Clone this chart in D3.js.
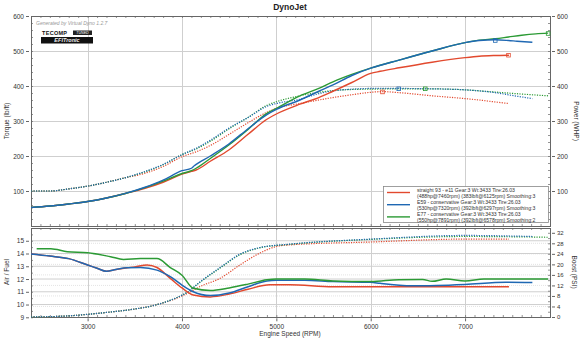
<!DOCTYPE html>
<html><head><meta charset="utf-8">
<script src="https://cdn.jsdelivr.net/npm/d3@7/dist/d3.min.js"></script>
<style>
body{margin:0;background:#fff;}
svg{display:block;font-family:"Liberation Sans",Arial,sans-serif;}
</style></head>
<body><svg id="c" width="580" height="342"></svg>
<script>
// ---------------- DATA ----------------
const seriesNames = ["straight 93 - e11", "E59 - conservative", "E77 - conservative"];
const legendLine1 = [
  "straight 93 - e11 Gear:3 Wt:3433 Tire:26.03",
  "E59 - conservative Gear:3 Wt:3433 Tire:26.03",
  "E77 - conservative Gear:3 Wt:3433 Tire:26.03"];
const legendLine2 = [
  "(488hp@7460rpm) (383lbft@6125rpm) Smoothing:3",
  "(530hp@7320rpm) (392lbft@6297rpm) Smoothing:3",
  "(550hp@7891rpm) (392lbft@6578rpm) Smoothing:2"];
const colors = ["#e2492e", "#1f68b3", "#2b9a34"];

const xTicks = [3000, 4000, 5000, 6000, 7000];
const topTicks = [100, 200, 300, 400, 500, 600];
const afrTicks = [9, 10, 11, 12, 13, 14, 15];
const boostTicks = [0, 4, 8, 12, 16, 20, 24, 28, 32];

// Power (WHP): [rpm, hp]
const powerRed = [[2400,53],[2600,57],[2800,63],[3000,70],[3200,80],[3400,93],[3600,107],[3800,125],[4000,148],[4100,156],[4150,160],[4300,185],[4500,218],[4700,262],[4900,305],[5000,320],[5250,348],[5450,367],[5600,385],[5800,410],[6000,436],[6100,442],[6300,452],[6650,468],[7000,481],[7150,485],[7300,487],[7465,488]];
const powerBlue = [[2400,53],[2600,57],[2800,63],[3000,70],[3200,80],[3400,93],[3600,110],[3800,131],[4000,158],[4100,165],[4130,172],[4300,200],[4500,235],[4700,278],[4900,318],[5000,333],[5250,360],[5450,385],[5600,403],[5800,430],[6000,451],[6300,474],[6650,500],[7000,524],[7150,530],[7320,532],[7460,530],[7550,528],[7713,525]];
const powerGreen = [[2400,53],[2600,57],[2800,63],[3000,70],[3200,80],[3400,93],[3600,109],[3800,128],[4000,150],[4100,158],[4150,165],[4300,193],[4500,232],[4700,276],[4900,322],[5000,336],[5250,372],[5450,393],[5600,412],[5800,433],[6000,451],[6300,474],[6650,500],[7000,524],[7150,531],[7320,535],[7460,540],[7600,545],[7750,549],[7880,551]];

// Torque (lb/ft): [rpm, lbft]
const torqueRed = [[2400,100],[2600,100],[2800,106],[3000,114],[3200,125],[3400,138],[3600,150],[3800,170],[4000,198],[4150,212],[4300,230],[4500,262],[4700,295],[4900,325],[5000,336],[5250,350],[5450,360],[5600,367],[5800,375],[6000,382],[6125,384],[6300,381],[6650,372],[7000,364],[7150,360],[7300,355],[7465,350]];
const torqueBlue = [[2400,100],[2600,100],[2800,106],[3000,114],[3200,125],[3400,138],[3600,155],[3800,176],[4000,204],[4150,222],[4300,245],[4500,280],[4700,310],[4900,342],[5000,350],[5250,362],[5450,378],[5600,386],[5800,391],[6000,393],[6300,393],[6650,392],[7000,389],[7150,386],[7320,381],[7500,373],[7713,364]];
const torqueGreen = [[2400,100],[2600,100],[2800,106],[3000,114],[3200,125],[3400,138],[3600,154],[3800,175],[4000,204],[4150,220],[4300,242],[4500,278],[4700,310],[4900,345],[5000,355],[5250,372],[5450,382],[5600,387],[5800,390],[6000,391],[6300,392],[6578,392],[7000,389],[7300,383],[7600,377],[7880,372]];

// Air / Fuel: [rpm, afr]
const afrRed = [[2400,13.96],[2600,13.8],[2800,13.6],[3000,13.1],[3100,12.85],[3200,12.6],[3300,12.75],[3420,12.88],[3500,12.95],[3630,13.1],[3735,12.9],[3876,12.05],[4000,11.3],[4120,10.75],[4300,10.6],[4500,10.82],[4700,11.2],[4930,11.55],[5140,11.55],[5600,11.4],[6000,11.4],[7000,11.4],[7465,11.4]];
const afrBlue = [[2400,13.96],[2600,13.8],[2800,13.6],[3000,13.1],[3100,12.85],[3200,12.6],[3300,12.75],[3420,12.88],[3560,12.9],[3735,12.7],[3876,12.18],[4000,11.53],[4120,11.0],[4300,10.7],[4500,10.9],[4700,11.4],[4900,11.85],[5000,11.9],[5300,11.9],[5600,11.8],[6000,11.75],[6100,11.66],[6440,11.47],[6700,11.5],[7000,11.58],[7430,11.74],[7713,11.72]];
const afrGreen = [[2460,14.37],[2610,14.37],[2785,14.14],[3000,14.06],[3243,13.75],[3380,13.54],[3560,13.6],[3735,13.6],[3876,12.9],[4000,12.3],[4120,11.27],[4300,11.1],[4500,11.3],[4700,11.6],[4900,11.94],[5000,12.0],[5300,12.0],[5600,11.85],[6000,11.8],[6300,11.95],[6550,11.97],[6650,11.82],[6800,12.0],[7000,11.85],[7200,12.0],[7880,12.0]];

// Boost (PSI): [rpm, psi]
const boostRed = [[2400,0],[2785,0.4],[3000,1.0],[3243,1.9],[3475,2.9],[3735,4.7],[3920,6.8],[4060,9.0],[4193,11.6],[4404,14.7],[4615,19.8],[4826,24.3],[5000,26.8],[5142,27.4],[6000,28.5],[7000,29.6],[7465,29.6]];
const boostBlue = [[2400,0],[2785,0.4],[3000,1.0],[3243,1.9],[3475,2.9],[3735,4.7],[3920,7.0],[4060,9.5],[4190,13.3],[4404,18.8],[4615,23.9],[4826,26.4],[5142,27.7],[6000,29.6],[7000,31.0],[7713,30.6]];
const boostGreen = [[2400,0],[2785,0.4],[3000,1.0],[3243,1.9],[3475,2.9],[3735,4.7],[3920,7.0],[4060,9.5],[4190,13.2],[4404,18.6],[4615,23.7],[4826,26.3],[5142,27.6],[6000,29.5],[7000,30.6],[7880,30.3]];

// Peak markers: [series index, rpm, value]
const peakMarkers = [[0,7460,488],[0,6125,383],[1,7320,530],[1,6297,392],[2,7880,550],[2,6578,392]];

// ---------------- CHART ----------------
const svg = d3.select("#c");
const x = d3.scaleLinear().domain([2400, 7900]).range([31, 550]);
const yTop = d3.scaleLinear().domain([0, 600]).range([226, 16]);
const yAfr = d3.scaleLinear().domain([9, 16]).range([317.3, 228]);
const yBoost = d3.scaleLinear().domain([0, 32]).range([317, 232.8]);
const fmt = d3.format("d");

const gridC = "#cfcfcf", axisC = "#666", txtC = "#333";

svg.append("text").attr("x", 290).attr("y", 10).attr("text-anchor","middle")
  .attr("font-size", 8.5).attr("font-weight","bold").attr("fill","#222").text("DynoJet");

// ---- top panel grid
const gTop = svg.append("g");
gTop.selectAll(".hg").data(topTicks.slice(0,-1)).join("line")
  .attr("x1", x.range()[0]).attr("x2", x.range()[1])
  .attr("y1", d=>yTop(d)+0.5).attr("y2", d=>yTop(d)+0.5)
  .attr("stroke", gridC).attr("stroke-width",1);
gTop.selectAll(".vg").data(xTicks).join("line")
  .attr("x1", d=>Math.round(x(d))+0.5).attr("x2", d=>Math.round(x(d))+0.5)
  .attr("y1", yTop(600)).attr("y2", yTop(0))
  .attr("stroke", gridC).attr("stroke-width",1);

// ---- bottom panel grid
const gBot = svg.append("g");
gBot.selectAll(".bg").data(boostTicks.slice(1,-1)).join("line")
  .attr("x1", x.range()[0]).attr("x2", x.range()[1])
  .attr("y1", d=>yBoost(d)).attr("y2", d=>yBoost(d))
  .attr("stroke", "#dcdcdc").attr("stroke-width",0.8).attr("stroke-dasharray","1,1");
gBot.selectAll(".ag").data(afrTicks.slice(1)).join("line")
  .attr("x1", x.range()[0]).attr("x2", x.range()[1])
  .attr("y1", d=>yAfr(d)).attr("y2", d=>yAfr(d))
  .attr("stroke", gridC).attr("stroke-width",1);
gBot.selectAll(".vg").data(xTicks).join("line")
  .attr("x1", d=>Math.round(x(d))+0.5).attr("x2", d=>Math.round(x(d))+0.5)
  .attr("y1", 228).attr("y2", yAfr(9))
  .attr("stroke", gridC).attr("stroke-width",1);

function frame(g, yScaleL, yScaleR, top, bottom, minorL, minorR) {
  const xMinor = d3.range(2400, 7901, 100);
  g.append("g").attr("transform",`translate(0,${bottom})`)
    .call(d3.axisTop(x).tickValues(xMinor).tickSize(2).tickFormat(""));
  g.append("g").attr("transform",`translate(0,${top})`)
    .call(d3.axisBottom(x).tickValues(xMinor).tickSize(2).tickFormat(""));
  g.append("g").attr("transform",`translate(${x.range()[0]},0)`)
    .call(d3.axisRight(yScaleL).tickValues(minorL).tickSize(2).tickFormat(""));
  g.append("g").attr("transform",`translate(${x.range()[1]},0)`)
    .call(d3.axisLeft(yScaleR).tickValues(minorR).tickSize(2).tickFormat(""));
  g.selectAll("path.domain").remove();
  g.selectAll("line").attr("stroke", axisC).attr("stroke-width",0.7);
  g.append("rect").attr("x", x.range()[0]+0.5).attr("y", top+0.5)
    .attr("width", x.range()[1]-x.range()[0]).attr("height", bottom-top)
    .attr("fill","none").attr("stroke", axisC).attr("stroke-width",1);
}
frame(svg.append("g"), yTop, yTop, 16, 226, d3.range(0,601,20), d3.range(0,601,20));
frame(svg.append("g"), yAfr, yBoost, 228, 317, d3.range(9,16.01,0.5), d3.range(0,33,2));

const lblSize = 6.5;
const styleAxis = (g, fs) => { g.select(".domain").remove(); g.selectAll("line").attr("stroke",axisC);
  g.selectAll("text").attr("font-size",fs).attr("fill",txtC).attr("font-family","Liberation Sans"); };
svg.append("g").attr("transform",`translate(${x.range()[0]-2},0)`)
  .call(d3.axisLeft(yTop).tickValues(topTicks).tickFormat(fmt).tickSize(3).tickPadding(2))
  .call(g=>styleAxis(g, lblSize));
svg.append("g").attr("transform",`translate(${x.range()[1]+2},0)`)
  .call(d3.axisRight(yTop).tickValues(topTicks).tickFormat(fmt).tickSize(3).tickPadding(2))
  .call(g=>styleAxis(g, lblSize));
svg.append("g").attr("transform",`translate(${x.range()[0]-2},0)`)
  .call(d3.axisLeft(yAfr).tickValues(afrTicks).tickFormat(fmt).tickSize(3).tickPadding(2))
  .call(g=>styleAxis(g, lblSize));
svg.append("g").attr("transform",`translate(${x.range()[1]+2},0)`)
  .call(d3.axisRight(yBoost).tickValues(boostTicks).tickFormat(fmt).tickSize(3).tickPadding(2))
  .call(g=>styleAxis(g, 6));
svg.append("g").attr("transform",`translate(0,${yAfr(9)+1})`)
  .call(d3.axisBottom(x).tickValues(xTicks).tickFormat(fmt).tickSize(3).tickPadding(3))
  .call(g=>styleAxis(g, lblSize));

const axT = (t, xx, yy, rot) => svg.append("text").attr("transform",`translate(${xx},${yy}) rotate(${rot})`)
  .attr("text-anchor","middle").attr("font-size",6.5).attr("fill",txtC).text(t);
axT("Torque (lb/ft)", 9, 121, -90);
axT("Power (WHP)", 574, 121, 90);
axT("Air / Fuel", 9, 272, -90);
axT("Boost (PSI)", 572, 272, 90);
svg.append("text").attr("x", 290).attr("y", 336).attr("text-anchor","middle")
  .attr("font-size",6.5).attr("fill",txtC).text("Engine Speed (RPM)");

svg.append("text").attr("x", 36).attr("y", 25).attr("font-size",5).attr("font-style","italic")
  .attr("fill","#999").text("Generated by Virtual Dyno 1.2.7");
svg.append("text").attr("x", 42).attr("y", 34.5).attr("font-size",5.5).attr("font-weight","bold")
  .attr("fill","#111").attr("letter-spacing",0.3).text("TECOMP");
svg.append("rect").attr("x",73).attr("y",30.5).attr("width",19).attr("height",4.5).attr("fill","#222");
svg.append("text").attr("x", 82.5).attr("y", 34.2).attr("text-anchor","middle").attr("font-size",3.6)
  .attr("font-style","italic").attr("fill","#fff").text("TUNED");
svg.append("rect").attr("x",41).attr("y",37).attr("width",52).attr("height",6.5).attr("fill","#111");
svg.append("text").attr("x", 67).attr("y", 42.3).attr("text-anchor","middle").attr("font-size",5.5)
  .attr("font-style","italic").attr("font-weight","bold").attr("fill","#eee").text("EFITronic");

const lineTop = d3.line().x(d=>x(d[0])).y(d=>yTop(d[1])).curve(d3.curveMonotoneX);
const lineAfr = d3.line().x(d=>x(d[0])).y(d=>yAfr(d[1])).curve(d3.curveMonotoneX);
const lineBoost = d3.line().x(d=>x(d[0])).y(d=>yBoost(d[1])).curve(d3.curveMonotoneX);

const torques = [torqueRed, torqueBlue, torqueGreen];
const powers = [powerRed, powerBlue, powerGreen];
const afrs = [afrRed, afrBlue, afrGreen];
const boosts = [boostRed, boostBlue, boostGreen];

const order = [0, 2, 1];
order.forEach(i=>{
  svg.append("path").attr("d", lineTop(torques[i])).attr("fill","none")
    .attr("stroke", colors[i]).attr("stroke-width",1.2).attr("stroke-dasharray","1.2,1.3");
});
order.forEach(i=>{
  svg.append("path").attr("d", lineTop(powers[i])).attr("fill","none")
    .attr("stroke", colors[i]).attr("stroke-width",1.4);
});
order.forEach(i=>{
  svg.append("path").attr("d", lineBoost(boosts[i])).attr("fill","none")
    .attr("stroke", colors[i]).attr("stroke-width",1.2).attr("stroke-dasharray","1.2,1.3");
});
[0,1,2].forEach(i=>{
  svg.append("path").attr("d", lineAfr(afrs[i])).attr("fill","none")
    .attr("stroke", colors[i]).attr("stroke-width",1.5);
});

svg.selectAll(".pk").data(peakMarkers).join("rect")
  .attr("x", d=>x(d[1])-1.8).attr("y", d=>yTop(d[2])-1.8).attr("width",3.6).attr("height",3.6)
  .attr("fill","none").attr("stroke", d=>colors[d[0]]).attr("stroke-width",0.8);

const lg = svg.append("g");
lg.append("rect").attr("x",383.5).attr("y",186.5).attr("width",165).attr("height",36)
  .attr("fill","#fff").attr("stroke","#888").attr("stroke-width",0.8);
[0,1,2].forEach(i=>{
  const cy = 192.5 + i*12.2;
  lg.append("line").attr("x1",387).attr("x2",410).attr("y1",cy).attr("y2",cy)
    .attr("stroke",colors[i]).attr("stroke-width",1.4);
  lg.append("text").attr("x",417).attr("y",cy-1).attr("font-size",5.1).attr("fill","#333").text(legendLine1[i]);
  lg.append("text").attr("x",417).attr("y",cy+5).attr("font-size",5.1).attr("fill","#333").text(legendLine2[i]);
});
</script></body></html>
